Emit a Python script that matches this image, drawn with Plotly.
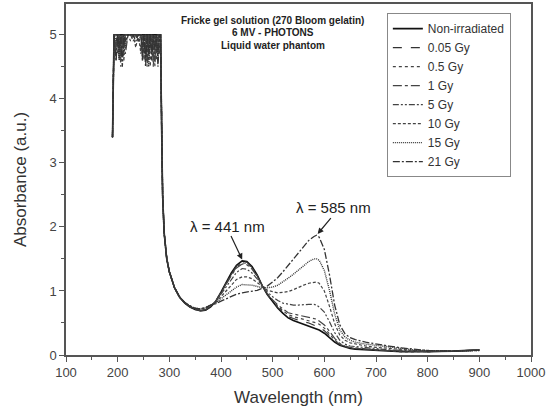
import plotly.graph_objects as go

# Wavelength grid (nm)
wavelength = [190, 193, 197, 200, 203, 206, 209, 212, 215, 220, 225, 230, 235, 240, 245,
              248, 251, 254, 257, 260, 263, 266, 269, 272, 275, 278, 281,
              283, 285, 287, 290, 295, 300, 310, 320, 330, 340, 350, 360, 370, 380,
              390, 400, 410, 420, 430, 441, 450, 460, 470, 480, 490, 500, 510, 520, 530,
              540, 550, 560, 570, 580, 585, 590, 600, 610, 620, 630, 640, 650, 660, 680,
              700, 725, 750, 775, 800, 850, 900]

series_names = ["Non-irradiated", "0.05 Gy", "0.5 Gy", "1 Gy", "5 Gy", "10 Gy", "15 Gy", "21 Gy"]

abs_non_irradiated = [
    3.4, 5, 5, 5, 5, 5, 5, 5, 5, 5, 5, 5, 5, 5, 5, 5, 5, 5, 5, 5, 5, 5, 5, 5, 5, 5, 5,
    5.0, 3.6, 2.5, 1.9, 1.5, 1.3, 1.05, 0.9, 0.81, 0.75, 0.71, 0.69, 0.70, 0.75,
    0.84, 0.98, 1.13, 1.28, 1.40, 1.47, 1.46, 1.38, 1.25, 1.08, 0.94, 0.83, 0.73, 0.65, 0.58,
    0.54, 0.51, 0.48, 0.46, 0.43, 0.41, 0.39, 0.34, 0.27, 0.20, 0.15, 0.12, 0.10, 0.09, 0.08,
    0.07, 0.06, 0.05, 0.05, 0.05, 0.06, 0.08]
abs_005 = [
    3.4, 5, 4.6, 5, 4.7, 5, 4.8, 5, 5, 5, 5, 5, 5, 5, 5, 4.7, 5, 4.6, 5, 4.8, 5, 4.7, 5, 4.6, 5, 4.8, 5,
    5.0, 3.7, 2.55, 1.92, 1.5, 1.3, 1.05, 0.9, 0.81, 0.75, 0.71, 0.69, 0.70, 0.75,
    0.84, 0.98, 1.12, 1.27, 1.39, 1.46, 1.45, 1.37, 1.24, 1.08, 0.94, 0.84, 0.74, 0.67, 0.60,
    0.57, 0.54, 0.52, 0.50, 0.47, 0.45, 0.43, 0.38, 0.30, 0.22, 0.16, 0.13, 0.11, 0.10, 0.09,
    0.08, 0.07, 0.06, 0.06, 0.05, 0.06, 0.08]
abs_05 = [
    3.4, 5, 5, 4.7, 5, 4.5, 5, 4.8, 5, 5, 4.9, 5, 5, 4.9, 5, 5, 4.6, 5, 4.8, 5, 4.5, 5, 4.7, 5, 4.6, 5, 5,
    5.0, 3.5, 2.45, 1.9, 1.5, 1.29, 1.05, 0.9, 0.81, 0.75, 0.71, 0.69, 0.71, 0.76,
    0.84, 0.97, 1.12, 1.26, 1.37, 1.44, 1.43, 1.36, 1.24, 1.08, 0.95, 0.85, 0.76, 0.69, 0.63,
    0.60, 0.58, 0.55, 0.54, 0.52, 0.50, 0.48, 0.42, 0.33, 0.23, 0.17, 0.13, 0.11, 0.10, 0.09,
    0.08, 0.06, 0.05, 0.05, 0.05, 0.06, 0.08]
abs_1 = [
    3.4, 5, 4.8, 5, 4.6, 5, 4.9, 5, 4.7, 5, 5, 5, 5, 5, 4.8, 5, 4.7, 5, 4.5, 5, 4.8, 5, 4.6, 5, 4.7, 5, 4.9,
    5.0, 3.8, 2.6, 1.95, 1.52, 1.31, 1.06, 0.91, 0.82, 0.76, 0.72, 0.70, 0.71, 0.76,
    0.84, 0.97, 1.11, 1.24, 1.36, 1.42, 1.41, 1.34, 1.23, 1.08, 0.96, 0.86, 0.78, 0.72, 0.66,
    0.64, 0.62, 0.60, 0.59, 0.57, 0.56, 0.53, 0.47, 0.37, 0.26, 0.18, 0.14, 0.12, 0.11, 0.09,
    0.08, 0.07, 0.06, 0.05, 0.05, 0.06, 0.08]
abs_5 = [
    3.4, 5, 5, 4.8, 5, 4.7, 5, 4.6, 5, 5, 5, 4.9, 5, 5, 5, 4.6, 5, 4.8, 5, 4.6, 5, 4.7, 5, 4.5, 5, 4.7, 5,
    5.0, 3.6, 2.5, 1.9, 1.5, 1.3, 1.05, 0.9, 0.81, 0.75, 0.72, 0.70, 0.72, 0.77,
    0.83, 0.95, 1.07, 1.19, 1.29, 1.35, 1.34, 1.28, 1.19, 1.07, 0.98, 0.91, 0.85, 0.81, 0.79,
    0.78, 0.78, 0.79, 0.79, 0.79, 0.78, 0.75, 0.67, 0.52, 0.35, 0.23, 0.17, 0.14, 0.13, 0.11,
    0.10, 0.08, 0.07, 0.06, 0.06, 0.06, 0.08]
abs_10 = [
    3.4, 5, 4.7, 5, 5, 4.6, 5, 4.7, 5, 5, 5, 5, 4.8, 5, 4.7, 5, 4.8, 5, 4.6, 5, 4.9, 5, 4.5, 5, 4.8, 5, 4.7,
    5.0, 3.7, 2.5, 1.92, 1.51, 1.3, 1.05, 0.9, 0.82, 0.76, 0.72, 0.71, 0.73, 0.77,
    0.82, 0.91, 1.00, 1.10, 1.18, 1.22, 1.22, 1.19, 1.13, 1.06, 1.01, 0.99, 0.97, 0.98, 0.99,
    1.02, 1.06, 1.09, 1.12, 1.14, 1.14, 1.12, 1.00, 0.76, 0.49, 0.31, 0.23, 0.19, 0.17, 0.14,
    0.12, 0.10, 0.08, 0.07, 0.06, 0.06, 0.08]
abs_15 = [
    3.4, 5, 4.9, 5, 4.6, 5, 4.7, 5, 4.8, 5, 5, 5, 5, 4.9, 5, 4.6, 5, 4.7, 5, 4.5, 5, 4.8, 5, 4.7, 5, 4.6, 5,
    5.0, 3.5, 2.45, 1.9, 1.5, 1.3, 1.05, 0.9, 0.82, 0.76, 0.73, 0.72, 0.74, 0.78,
    0.81, 0.88, 0.94, 1.01, 1.06, 1.10, 1.10, 1.09, 1.07, 1.05, 1.05, 1.06, 1.09, 1.14, 1.20,
    1.26, 1.33, 1.40, 1.46, 1.50, 1.50, 1.48, 1.32, 1.01, 0.64, 0.39, 0.28, 0.23, 0.20, 0.17,
    0.15, 0.12, 0.10, 0.08, 0.07, 0.06, 0.07]
abs_21 = [
    3.4, 5, 4.6, 5, 4.8, 5, 4.5, 5, 4.9, 5, 5, 5, 4.9, 5, 5, 4.8, 5, 4.5, 5, 4.7, 5, 4.6, 5, 4.8, 5, 4.5, 5,
    5.0, 3.6, 2.5, 1.9, 1.5, 1.3, 1.05, 0.9, 0.82, 0.77, 0.73, 0.72, 0.74, 0.78,
    0.80, 0.84, 0.88, 0.92, 0.95, 0.97, 0.98, 0.99, 1.01, 1.04, 1.08, 1.14, 1.21, 1.30, 1.40,
    1.50, 1.60, 1.70, 1.79, 1.85, 1.87, 1.84, 1.65, 1.25, 0.78, 0.47, 0.33, 0.27, 0.24, 0.20,
    0.17, 0.14, 0.11, 0.09, 0.07, 0.06, 0.07]

all_values = [abs_non_irradiated, abs_005, abs_05, abs_1, abs_5, abs_10, abs_15, abs_21]

x_ticks = [100, 200, 300, 400, 500, 600, 700, 800, 900, 1000]
y_ticks = [0, 1, 2, 3, 4, 5]

title_lines = ["Fricke gel solution (270 Bloom gelatin)", "6 MV - PHOTONS", "Liquid water phantom"]

# styles
dashes = ["solid", "dash", "dot", "dashdot", "6px,2px,2px,2px,2px,2px", "3px,2px", "1px,1px", "7px,2px,2px,2px"]
colors = ["#111111", "#333333", "#444444", "#444444", "#444444", "#444444", "#333333", "#333333"]
widths = [1.6, 1.2, 1.2, 1.2, 1.2, 1.2, 1.4, 1.3]

FONT = "Liberation Sans, Arial, sans-serif"

fig = go.Figure()
for name, vals, d, c, w in zip(series_names, all_values, dashes, colors, widths):
    assert len(vals) == len(wavelength), (name, len(vals), len(wavelength))
    fig.add_trace(go.Scatter(x=wavelength, y=vals, mode="lines", name=name,
                             line=dict(color=c, width=w, dash=d)))

axis_common = dict(showgrid=False, zeroline=False, showline=True, linecolor="#555555",
                   linewidth=1.5, mirror=True, ticks="outside", ticklen=5, tickwidth=1,
                   tickcolor="#555555", automargin=False,
                   tickfont=dict(size=13, color="#444444", family=FONT))

fig.update_xaxes(range=[100, 1000], tickvals=x_ticks, **axis_common,
                 minor=dict(ticks="outside", ticklen=3, dtick=50, tickcolor="#555555"),
                 title=dict(text="Wavelength (nm)", font=dict(size=17, color="#333333", family=FONT),
                            standoff=12))
fig.update_yaxes(range=[0, 5.48], tickvals=y_ticks, **axis_common,
                 minor=dict(ticks="outside", ticklen=3, dtick=0.5, tickcolor="#555555"),
                 title=dict(text="Absorbance (a.u.)", font=dict(size=17, color="#333333", family=FONT),
                            standoff=18))

for i, line in enumerate(title_lines):
    fig.add_annotation(x=500, y=5.23 - i * 0.2, xref="x", yref="y", text="<b>%s</b>" % line,
                       showarrow=False, font=dict(size=10, color="#222222", family=FONT))

# peak labels
fig.add_annotation(x=412, y=2.0, xref="x", yref="y", text="λ = 441 nm", showarrow=False,
                   font=dict(size=15, color="#222222", family=FONT))
fig.add_annotation(x=441, y=1.49, ax=418, ay=1.88, xref="x", yref="y", axref="x", ayref="y",
                   text="", showarrow=True, arrowhead=2, arrowsize=1, arrowwidth=1.2, arrowcolor="#222222")
fig.add_annotation(x=617, y=2.31, xref="x", yref="y", text="λ = 585 nm", showarrow=False,
                   font=dict(size=15, color="#222222", family=FONT))
fig.add_annotation(x=587, y=1.89, ax=615, ay=2.16, xref="x", yref="y", axref="x", ayref="y",
                   text="", showarrow=True, arrowhead=2, arrowsize=1, arrowwidth=1.2, arrowcolor="#222222")

fig.update_layout(
    width=547, height=413,
    margin=dict(l=66, r=16, t=4, b=58),
    plot_bgcolor="white", paper_bgcolor="white",
    font=dict(family=FONT, color="#333333"),
    legend=dict(x=0.69, y=0.974, xanchor="left", yanchor="top", bgcolor="white",
                bordercolor="#888888", borderwidth=1, font=dict(size=12, color="#333333", family=FONT),
                tracegroupgap=0, itemwidth=30),
    showlegend=True,
)

fig.write_html("out.html", config={"displayModeBar": False},
               post_script="document.body.style.margin='0';document.body.style.overflow='hidden';")
